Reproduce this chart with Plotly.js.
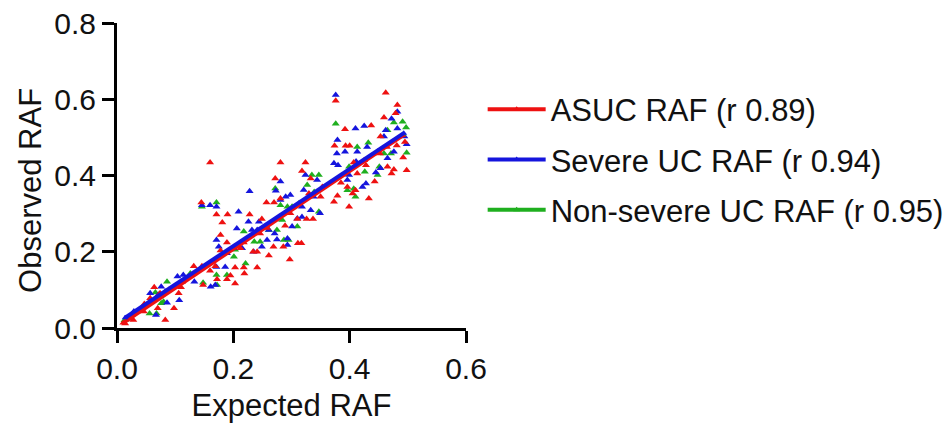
<!DOCTYPE html>
<html>
<head>
<meta charset="utf-8">
<script src="https://cdn.plot.ly/plotly-3.0.1.min.js"></script>
<style>html,body{margin:0;padding:0;background:#fff;}#chart{width:952px;height:423px;}</style>
</head>
<body>
<div id="chart"></div>
<script>
// ASUC RAF points (expected, observed)
const asucX = [0.462,0.482,0.479,0.376,0.160,0.145,0.281,0.324,0.392,0.374,
0.393,0.400,0.437,0.459,0.272,0.318,0.333,0.257,0.270,0.281,
0.171,0.190,0.228,0.181,0.178,0.249,0.310,0.326,0.337,0.289,
0.311,0.317,0.286,0.269,0.234,0.241,0.261,0.297,0.241,0.218,
0.203,0.195,0.189,0.203,0.219,0.172,0.169,0.160,0.132,0.110,
0.106,0.098,0.083,0.064,0.070,0.047,0.028,0.014,0.218,0.189,
0.178,0.212,0.373,0.399,0.405,0.433,0.443,0.410,0.396,0.428,
0.452,0.472,0.476,0.492,0.498,0.453,0.464,0.385,0.379,0.353,
0.350,0.330,0.407,0.425,0.413,0.465,0.481,0.495,0.298,0.258,
0.246,0.146,0.148,0.112,0.089,0.057,0.074,0.046];
const asucY = [0.617,0.585,0.563,0.596,0.434,0.329,0.434,0.434,0.521,0.478,
0.478,0.478,0.531,0.552,0.392,0.412,0.392,0.329,0.329,0.340,
0.298,0.298,0.298,0.277,0.244,0.286,0.286,0.286,0.286,0.268,
0.222,0.222,0.213,0.213,0.200,0.200,0.190,0.180,0.159,0.159,
0.159,0.138,0.128,0.117,0.143,0.128,0.162,0.150,0.162,0.107,
0.091,0.052,0.021,0.107,0.052,0.063,0.021,0.012,0.224,0.224,
0.203,0.209,0.331,0.318,0.353,0.340,0.384,0.361,0.370,0.427,
0.458,0.405,0.416,0.447,0.414,0.502,0.475,0.381,0.347,0.370,
0.344,0.353,0.434,0.440,0.405,0.423,0.479,0.488,0.301,0.262,
0.248,0.162,0.113,0.121,0.100,0.078,0.091,0.043];

// Severe UC RAF points
const severeX = [0.376,0.482,0.472,0.462,0.482,0.410,0.425,0.379,0.378,0.373,
0.380,0.392,0.413,0.430,0.448,0.494,0.498,0.476,0.465,0.445,
0.428,0.422,0.399,0.281,0.273,0.228,0.209,0.281,0.290,0.298,
0.324,0.321,0.338,0.344,0.318,0.333,0.349,0.146,0.160,0.171,
0.171,0.175,0.189,0.206,0.226,0.232,0.241,0.244,0.261,0.271,
0.275,0.293,0.293,0.310,0.318,0.215,0.200,0.186,0.171,0.169,
0.161,0.133,0.114,0.104,0.107,0.086,0.076,0.067,0.057,0.029,
0.249,0.235,0.301,0.258,0.411,0.396,0.453,0.459,0.020,0.040,
0.071,0.083];
const severeY = [0.611,0.567,0.549,0.519,0.523,0.523,0.530,0.493,0.458,0.432,
0.427,0.462,0.462,0.475,0.462,0.502,0.482,0.462,0.445,0.408,
0.379,0.370,0.401,0.384,0.360,0.359,0.305,0.336,0.344,0.349,
0.401,0.362,0.344,0.388,0.318,0.309,0.301,0.322,0.322,0.318,
0.231,0.213,0.196,0.261,0.279,0.257,0.257,0.279,0.257,0.248,
0.232,0.218,0.235,0.287,0.291,0.209,0.209,0.160,0.160,0.113,
0.108,0.121,0.139,0.135,0.073,0.066,0.108,0.034,0.091,0.043,
0.213,0.200,0.266,0.231,0.437,0.388,0.419,0.502,0.025,0.047,
0.087,0.095];

// Non-severe UC RAF points
const nonSevereX = [0.376,0.491,0.497,0.476,0.465,0.498,0.471,0.432,0.451,0.426,
0.413,0.399,0.396,0.407,0.347,0.335,0.272,0.281,0.293,0.327,
0.339,0.347,0.313,0.301,0.284,0.275,0.261,0.246,0.236,0.218,
0.203,0.201,0.189,0.221,0.171,0.146,0.172,0.148,0.171,0.126,
0.086,0.080,0.076,0.056,0.068,0.014,0.287,0.295,0.310,0.448,
0.459,0.410,0.066];
const nonSevereY = [0.536,0.541,0.526,0.539,0.519,0.460,0.458,0.486,0.423,0.410,
0.475,0.423,0.361,0.365,0.401,0.401,0.366,0.322,0.318,0.375,
0.357,0.305,0.327,0.318,0.283,0.257,0.257,0.226,0.226,0.253,
0.205,0.187,0.139,0.169,0.329,0.318,0.113,0.119,0.139,0.143,
0.121,0.069,0.065,0.038,0.038,0.021,0.231,0.231,0.266,0.401,
0.458,0.344,0.093];

// Fitted line end points
const asucFitX = [0.010, 0.491];
const asucFitY = [0.013, 0.505];
const severeFitX = [0.014, 0.493];
const severeFitY = [0.027, 0.511];
const nonSevereFitX = [0.012, 0.492];
const nonSevereFitY = [0.020, 0.508];

const seriesNames = ['ASUC RAF (r 0.89)', 'Severe UC RAF (r 0.94)', 'Non-severe UC RAF (r 0.95)'];
const xTickVals = [0, 0.2, 0.4, 0.6];
const yTickVals = [0, 0.2, 0.4, 0.6, 0.8];

const RED = '#ee1111', BLUE = '#1515dd', GREEN = '#1faf1f';
const FONT = '"Liberation Sans", Arial, sans-serif';

function pts(x, y, c) {
  return {x: x, y: y, type: 'scatter', mode: 'markers', showlegend: false, hoverinfo: 'skip',
    marker: {symbol: 'triangle-up', size: 7, color: c, line: {width: 0}}};
}
function fit(x, y, c, name, rank) {
  return {x: x, y: y, type: 'scatter', mode: 'lines+markers', name: name, legendrank: rank,
    legendgroup: 'g' + rank,
    line: {color: c, width: 4}, marker: {symbol: 'triangle-up', size: 6, color: c}};
}

const data = [
  pts(nonSevereX, nonSevereY, GREEN),
  pts(severeX, severeY, BLUE),
  pts(asucX, asucY, RED),
  fit(nonSevereFitX, nonSevereFitY, GREEN, seriesNames[2], 3),
  fit(asucFitX, asucFitY, RED, seriesNames[0], 1),
  fit(severeFitX, severeFitY, BLUE, seriesNames[1], 2)
];

const axisCommon = {
  showline: true, linewidth: 3, linecolor: '#000', mirror: false,
  ticks: 'outside', ticklen: 12, tickwidth: 3, tickcolor: '#000',
  showgrid: false, zeroline: false, tickformat: '.1f',
  tickfont: {family: FONT, size: 30, color: '#111'}
};

const layout = {
  width: 952, height: 423,
  margin: {l: 117, r: 486, t: 23, b: 95},
  paper_bgcolor: '#fff', plot_bgcolor: '#fff',
  font: {family: FONT, color: '#111'},
  xaxis: Object.assign({}, axisCommon, {range: [0, 0.6], tickvals: xTickVals,
    title: {text: 'Expected RAF', font: {family: FONT, size: 31, color: '#111'}, standoff: 11}}),
  yaxis: Object.assign({}, axisCommon, {range: [0, 0.8], tickvals: yTickVals}),
  annotations: [{
    text: 'Observed RAF', xref: 'paper', yref: 'paper', x: -0.25, y: 0.452,
    xanchor: 'center', yanchor: 'middle', textangle: -90, showarrow: false,
    font: {family: FONT, size: 31, color: '#111'}
  }],
  legend: {xref: 'container', yref: 'container', x: 0.507, y: 0.805,
    xanchor: 'left', yanchor: 'top', tracegroupgap: 7,
    font: {family: FONT, size: 31, color: '#111'}, itemwidth: 58, bgcolor: 'rgba(0,0,0,0)'},
  showlegend: true
};

Plotly.newPlot('chart', data, layout, {displayModeBar: false, staticPlot: true});
</script>
</body>
</html>
